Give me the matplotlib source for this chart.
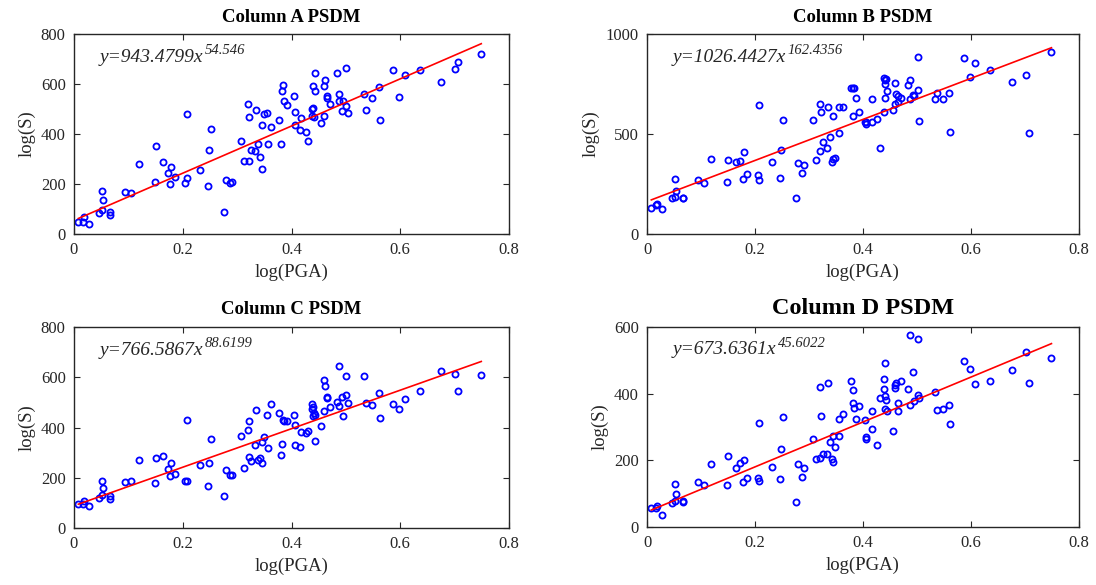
import numpy as np
import matplotlib
matplotlib.use('Agg')
import matplotlib.pyplot as plt

plt.rcParams['font.family'] = 'Liberation Serif'

########### DATA ###############################################################

# log(PGA), shared by all four columns
pga = [0.008, 0.016, 0.018, 0.028, 0.046, 0.051, 0.051, 0.054, 0.066, 0.066,
       0.094, 0.105, 0.119, 0.149, 0.150, 0.164, 0.173, 0.179, 0.177, 0.185,
       0.205, 0.208, 0.208, 0.232, 0.246, 0.249, 0.252, 0.276, 0.280, 0.287,
       0.291, 0.307, 0.313, 0.320, 0.321, 0.322, 0.325, 0.333, 0.335, 0.338,
       0.342, 0.345, 0.345, 0.349, 0.355, 0.356, 0.363, 0.377, 0.381, 0.382,
       0.384, 0.387, 0.392, 0.404, 0.406, 0.406, 0.417, 0.416, 0.426, 0.431,
       0.438, 0.440, 0.438, 0.441, 0.440, 0.444, 0.443, 0.459, 0.462, 0.465,
       0.465, 0.459, 0.455, 0.470, 0.484, 0.487, 0.487, 0.494, 0.501, 0.501,
       0.492, 0.504, 0.534, 0.537, 0.548, 0.560, 0.562, 0.587, 0.598, 0.608,
       0.636, 0.675, 0.701, 0.707, 0.749]

sA = [50, 50, 70, 41, 86, 97, 172, 138, 87, 77,
      168, 166, 282, 209, 352, 289, 246, 268, 199, 227,
      203, 223, 481, 256, 193, 335, 420, 90, 216, 203,
      207, 371, 294, 519, 292, 468, 337, 331, 498, 360,
      310, 262, 435, 481, 484, 360, 428, 456, 360, 574,
      598, 534, 517, 551, 488, 437, 465, 415, 408, 372,
      501, 504, 472, 469, 591, 572, 643, 594, 616, 554,
      546, 473, 443, 519, 643, 560, 531, 534, 663, 513,
      494, 486, 560, 496, 545, 590, 456, 656, 549, 636,
      656, 610, 660, 690, 721]

sB = [132, 145, 150, 123, 178, 187, 273, 217, 182, 178,
      270, 257, 373, 262, 370, 358, 365, 408, 273, 300,
      295, 270, 643, 362, 278, 420, 568, 178, 357, 303,
      345, 572, 370, 650, 415, 612, 458, 432, 637, 483,
      362, 373, 592, 378, 635, 507, 635, 728, 592, 728,
      728, 678, 608, 562, 552, 562, 675, 562, 573, 428,
      612, 682, 782, 770, 748, 715, 773, 757, 700, 688,
      658, 650, 622, 678, 745, 768, 673, 692, 887, 720,
      695, 565, 675, 703, 673, 707, 510, 882, 783, 853,
      822, 758, 795, 507, 910]

sC = [95, 95, 107, 87, 121, 130, 187, 159, 128, 114,
      183, 187, 272, 180, 278, 285, 236, 258, 207, 216,
      187, 187, 428, 249, 167, 258, 355, 127, 232, 209,
      209, 368, 237, 390, 282, 424, 266, 329, 468, 272,
      280, 258, 342, 362, 451, 318, 492, 457, 292, 335,
      428, 427, 424, 448, 408, 331, 382, 322, 379, 388,
      494, 481, 474, 458, 445, 448, 347, 590, 567, 521,
      517, 464, 405, 481, 501, 645, 485, 444, 604, 531,
      521, 498, 603, 497, 490, 538, 439, 494, 473, 514,
      546, 624, 611, 546, 610]

sD = [56, 56, 62, 37, 71, 78, 130, 99, 78, 74,
      135, 126, 188, 126, 212, 177, 191, 202, 136, 146,
      146, 138, 313, 179, 143, 234, 330, 75, 188, 149,
      178, 263, 204, 421, 208, 332, 220, 220, 431, 254,
      203, 195, 274, 241, 324, 274, 338, 437, 373, 411,
      357, 324, 363, 322, 264, 270, 347, 294, 247, 386,
      445, 393, 415, 353, 492, 347, 380, 426, 431, 373,
      348, 416, 287, 439, 415, 577, 365, 378, 563, 395,
      465, 386, 405, 350, 355, 366, 309, 497, 474, 430,
      437, 472, 524, 432, 507]

titles = ['Column A PSDM', 'Column B PSDM', 'Column C PSDM', 'Column D PSDM']
fits = [(943.4799, 54.546), (1026.4427, 162.4356),
        (766.5867, 88.6199), (673.6361, 45.6022)]
fit_labels = ['54.546', '162.4356', '88.6199', '45.6022']
ylims = [800, 1000, 800, 600]
yticks = [[0, 200, 400, 600, 800], [0, 500, 1000],
          [0, 200, 400, 600, 800], [0, 200, 400, 600]]
xticks = [0, 0.2, 0.4, 0.6, 0.8]
xtick_labels = ['0', '0.2', '0.4', '0.6', '0.8']

########### PLOT ###############################################################

W, H = 1096, 585
fig = plt.figure(figsize=(W / 100.0, H / 100.0), dpi=100)

# axes boxes in pixels: left, top, right, bottom
boxes = [(74, 34, 509, 234), (647, 34, 1079, 234),
         (74, 327, 509, 528), (647, 327, 1079, 527)]

series = [sA, sB, sC, sD]
x = np.array(pga)

for i in range(4):
    l, t, r, b = boxes[i]
    ax = fig.add_axes([l / W, 1 - b / H, (r - l) / W, (b - t) / H])
    ax.plot(x, series[i], 'o', ms=4.4, mfc='none', mec='blue', mew=1.3)
    k, c = fits[i]
    xl = np.array([x.min(), x.max()])
    ax.plot(xl, k * xl + c, '-', color='red', lw=1.2)

    ax.set_xlim(0, 0.8)
    ax.set_ylim(0, ylims[i])
    ax.set_xticks(xticks)
    ax.set_xticklabels(xtick_labels)
    ax.set_yticks(yticks[i])
    ax.tick_params(direction='in', top=True, right=True, length=4,
                   labelsize=12, colors='#262626', pad=6)
    for sp in ax.spines.values():
        sp.set_color('#262626')
        sp.set_linewidth(1.0)

    ax.set_xlabel('log(PGA)', fontsize=13.5, color='#262626', labelpad=4)
    ax.set_ylabel('log(S)', fontsize=13.5, color='#262626', labelpad=4)
    if i == 3:
        ax.set_title(titles[i], fontsize=17.5, fontweight='bold', pad=9)
    else:
        ax.set_title(titles[i], fontsize=13.5, fontweight='bold', pad=9)

    # equation text: base + superscript exponent
    eq = ax.text(0.06, 0.885, 'y=%.4fx' % k, transform=ax.transAxes,
                 fontsize=14, style='italic', color='#262626',
                 va='center', ha='left')
    ax.annotate(fit_labels[i], xy=(1, 0.5), xycoords=eq,
                xytext=(1, 0), textcoords='offset points',
                fontsize=10.5, style='italic', color='#262626',
                va='bottom', ha='left')

fig.savefig('out.png', dpi=100)
